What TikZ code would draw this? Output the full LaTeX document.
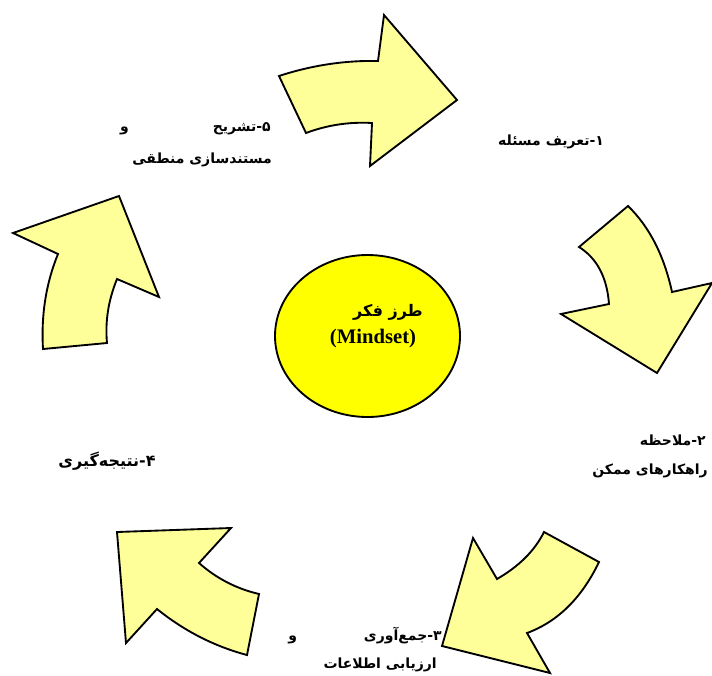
\documentclass[tikz,border=0pt]{standalone}
\usepackage{fontspec}
\usetikzlibrary{shapes.geometric}
\setmainfont{Liberation Serif}
\newfontfamily\fa[Script=Arabic]{DejaVu Sans}
\TeXXeTstate=1
\definecolor{arrowyellow}{HTML}{FFFF99}
\definecolor{centeryellow}{HTML}{FFFF00}
\begin{document}
\begin{tikzpicture}[x=0.75pt,y=-0.75pt,
  arrowshape/.style={draw=black, line width=1.4pt, fill=arrowyellow, line join=miter},
  lbl/.style={font=\fa\bfseries\fontsize{10.5}{14}\selectfont, inner sep=0pt},
  mid/.style={inner sep=0pt}]
\useasboundingbox (0,0) rectangle (712,675);

% arrow 1 (top)
\draw[arrowshape] (279,76) .. controls (311.7,65.3) and (344.7,60.3) .. (378,61) -- (384,15) -- (457,100) -- (370,166) -- (372,123) .. controls (349.3,121.7) and (327.3,125) .. (306,133) -- cycle;
% arrow 2 (right)
\draw[arrowshape] (579,247) -- (628,206) .. controls (649.3,226.7) and (664,255.3) .. (672,292) -- (712,283) -- (657,373) -- (561,314) -- (609,304) .. controls (607,277.3) and (597,258.3) .. (579,247) -- cycle;
% arrow 3 (bottom right)
\draw[arrowshape] (544,532) -- (599,562) .. controls (581.7,598) and (557.7,621.7) .. (527,633) -- (550,673) -- (442,646) -- (473,538) -- (497,579) .. controls (519,566.3) and (534.7,550.7) .. (544,532) -- cycle;
% arrow 4 (bottom left)
\draw[arrowshape] (117,532) -- (231,528) -- (199,563) .. controls (216.3,578.3) and (236.3,588.7) .. (259,594) -- (247,655) .. controls (214.3,646.3) and (184.3,631) .. (157,609) -- (126,643) -- cycle;
% arrow 5 (left)
\draw[arrowshape] (119,196) -- (159,297) -- (117,279) .. controls (108.3,300.3) and (105,321.7) .. (107,343) -- (43,349) .. controls (41,315) and (46,283.3) .. (58,254) -- (13,233) -- cycle;

% centre
\node[draw=black, line width=1.4pt, fill=centeryellow, ellipse, minimum width=138.75pt, minimum height=121.5pt, inner sep=0pt] (core) at (367.5,336) {};
\node[mid, font=\fa\bfseries\fontsize{12}{14}\selectfont] (coreFa) at (388,312) {\beginR طرز فکر\endR};
\node[mid, font=\bfseries\fontsize{15.5}{18}\selectfont] (coreEn) at (373,339) {(Mindset)};

% labels
\node[lbl] (l1) at (551,142) {\beginR ۱-تعریف مسئله\endR};
\node[lbl, anchor=east] (l2a) at (706,440) {\beginR ۲-ملاحظه\endR};
\node[lbl, anchor=east] (l2b) at (708,471) {\beginR راهکارهای ممکن\endR};
\node[lbl, anchor=east] (l3a) at (442,636) {\hbox to 115pt{\beginR ۳-جمع‌آوری\hfill و\endR}};
\node[lbl, anchor=east] (l3b) at (437,665) {\beginR ارزیابی اطلاعات\endR};
\node[lbl, font=\fa\bfseries\fontsize{12}{14}\selectfont] (l4) at (107,461) {\beginR ۴-نتیجه‌گیری\endR};
\node[lbl, anchor=east] (l5a) at (271,129) {\hbox to 113pt{\beginR ۵-تشریح\hfill و\endR}};
\node[lbl, anchor=east] (l5b) at (272,160) {\beginR مستندسازی منطقی\endR};
\end{tikzpicture}
\end{document}
